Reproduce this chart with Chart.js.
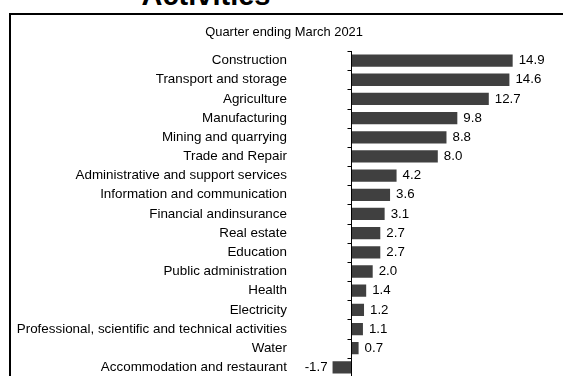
<!DOCTYPE html>
<html>
<head>
<meta charset="utf-8">
<script src="https://cdn.jsdelivr.net/npm/chart.js@4/dist/chart.umd.min.js"></script>
<style>
    html, body {
        margin: 0;
        padding: 0;
        width: 563px;
        height: 376px;
        overflow: hidden;
        background: #fff;
        font-family: 'Liberation Sans', Arial, sans-serif;
    }
    .main-title {
        position: absolute;
        left: 0;
        top: -19px;
        width: 412px;
        text-align: center;
        font-weight: bold;
        font-size: 29px;
        line-height: 1;
        color: #000;
    }
    .chart-box {
        position: absolute;
        left: 9px;
        top: 13px;
        width: 600px;
        height: 420px;
        border-left: 2px solid #000;
        border-top: 2px solid #000;
    }
    .chart-wrap {
        position: absolute;
        left: 11px;
        top: 15px;
        width: 552px;
        height: 370px;
    }
</style>
</head>
<body>
<div class="main-title">Activities</div>
<div class="chart-box"></div>
<div class="chart-wrap"><canvas id="myChart" width="552" height="370"></canvas></div>
<script>
/*-----growth by activity-----*/
var activities = [
    'Construction',
    'Transport and storage',
    'Agriculture',
    'Manufacturing',
    'Mining and quarrying',
    'Trade and Repair',
    'Administrative and support services',
    'Information and communication',
    'Financial andinsurance',
    'Real estate',
    'Education',
    'Public administration',
    'Health',
    'Electricity',
    'Professional, scientific and technical activities',
    'Water',
    'Accommodation and restaurant'
];
var growth = [14.9, 14.6, 12.7, 9.8, 8.8, 8.0, 4.2, 3.6, 3.1, 2.7, 2.7, 2.0, 1.4, 1.2, 1.1, 0.7, -1.7];
var xMin = -3,
    xMax = 19;

var fontFamily = "'Liberation Sans', Arial, sans-serif";

/*------zero axis with tick marks between categories------*/
var zeroAxis = {
    id: 'zeroAxis',
    afterDatasetsDraw: function(chart) {
        var ctx = chart.ctx;
        var area = chart.chartArea;
        var x0 = Math.round(chart.scales.x.getPixelForValue(0)) + 0.5;
        ctx.save();
        ctx.strokeStyle = '#000';
        ctx.lineWidth = 1;
        ctx.beginPath();
        ctx.moveTo(x0, area.top);
        ctx.lineTo(x0, area.bottom + 20);
        for (var i = 0; i <= activities.length; i++) {
            var y = Math.round(chart.scales.y.getPixelForValue(i - 0.5)) + 0.5;
            ctx.moveTo(x0 - 4, y);
            ctx.lineTo(x0, y);
        }
        ctx.stroke();
        ctx.restore();
    }
};

/*------value labels------*/
var valueLabels = {
    id: 'valueLabels',
    afterDatasetsDraw: function(chart) {
        var ctx = chart.ctx;
        var bars = chart.getDatasetMeta(0).data;
        ctx.save();
        ctx.font = '13.3px ' + fontFamily;
        ctx.fillStyle = '#000';
        ctx.textBaseline = 'middle';
        for (var i = 0; i < bars.length; i++) {
            var v = growth[i];
            if (v < 0) {
                ctx.textAlign = 'right';
                ctx.fillText(v.toFixed(1), bars[i].x - 5, bars[i].y);
            } else {
                ctx.textAlign = 'left';
                ctx.fillText(v.toFixed(1), bars[i].x + 6, bars[i].y);
            }
        }
        ctx.restore();
    }
};

var ctx = document.getElementById('myChart').getContext('2d');
var myChart = new Chart(ctx, {
    type: 'bar',
    data: {
        labels: activities,
        datasets: [{
            data: growth,
            backgroundColor: '#404040',
            borderWidth: 0,
            categoryPercentage: 1,
            barPercentage: 0.64
        }]
    },
    options: {
        indexAxis: 'y',
        responsive: false,
        animation: false,
        layout: {
            autoPadding: false,
            padding: { left: 0, right: 5.85, top: 0, bottom: 0 }
        },
        plugins: {
            legend: { display: false },
            tooltip: { enabled: false },
            title: {
                display: true,
                text: 'Quarter ending March 2021',
                color: '#000',
                font: { family: fontFamily, size: 12.9, weight: 'normal' },
                padding: { top: 9.6, bottom: 10.9 }
            }
        },
        scales: {
            x: {
                display: false,
                min: xMin,
                max: xMax
            },
            y: {
                // hidden tick marks, their length only spaces the labels off the plot
                grid: { display: false, drawTicks: true, tickLength: 31.5 },
                border: { display: false },
                ticks: {
                    color: '#000',
                    padding: 0,
                    autoSkip: false,
                    font: { family: fontFamily, size: 13.4 }
                },
                afterFit: function(scale) {
                    scale.width = 307.45;
                }
            }
        }
    },
    plugins: [zeroAxis, valueLabels]
});
</script>
</body>
</html>
